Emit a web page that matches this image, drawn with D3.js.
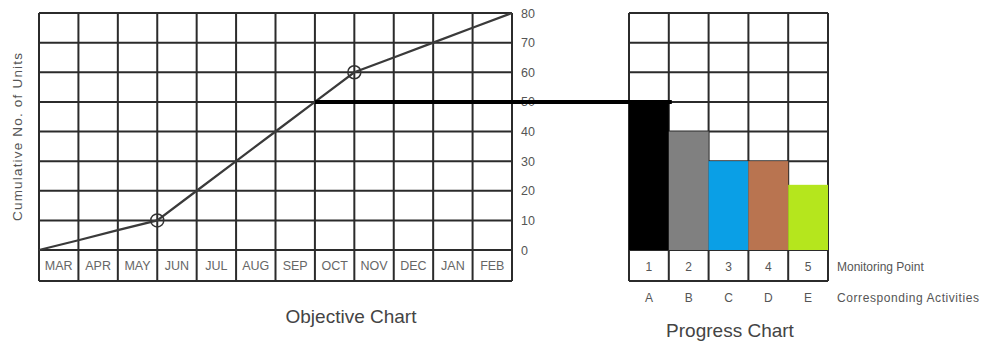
<!DOCTYPE html>
<html>
<head>
<meta charset="utf-8">
<script src="https://cdn.jsdelivr.net/npm/d3@7"></script>
<style>
  body { margin: 0; background: #fff; }
  text { font-family: "Liberation Sans", Arial, sans-serif; }
</style>
</head>
<body>
<script>
const months = ["MAR", "APR", "MAY", "JUN", "JUL", "AUG", "SEP", "OCT", "NOV", "DEC", "JAN", "FEB"];
// cumulative units at each month boundary (start of MAR ... end of FEB)
const cumulative = [0, 3.3, 6.7, 10, 20, 30, 40, 50, 60, 65, 70, 75, 80];
const monitoredIdx = [3, 8];
const yTicks = [0, 10, 20, 30, 40, 50, 60, 70, 80];

const points = ["1", "2", "3", "4", "5"];
const activities = ["A", "B", "C", "D", "E"];
const progress = [50, 40, 30, 30, 22];
const barColors = ["#000000", "#808080", "#0a9fe6", "#b97450", "#b5e61d"];
const connectorValue = 50;

const width = 985;
const height = 342;
const gridTop = 13;
const zero = 250;
const labelBottom = 281;
const gridColor = "#2b2b2b";
const textColor = "#555";

const svg = d3
  .select("body")
  .append("svg")
  .attr("width", width)
  .attr("height", height);

const yScale = d3.scaleLinear().domain([0, 80]).range([zero, gridTop]);

// ---------- Objective chart ----------
const xBand = d3.scaleBand().domain(months).range([39, 512]);
const xLine = d3.scaleLinear().domain([0, months.length]).range([39, 512]);

const obj = svg.append("g");

obj
  .selectAll("line.h")
  .data(yTicks.concat([-10.4]))
  .enter()
  .append("line")
  .attr("x1", 39)
  .attr("x2", 512)
  .attr("y1", (d) => (d < 0 ? labelBottom : yScale(d)))
  .attr("y2", (d) => (d < 0 ? labelBottom : yScale(d)))
  .attr("stroke", gridColor)
  .attr("stroke-width", 2);

obj
  .selectAll("line.v")
  .data(d3.range(months.length + 1))
  .enter()
  .append("line")
  .attr("x1", (d) => xLine(d))
  .attr("x2", (d) => xLine(d))
  .attr("y1", gridTop)
  .attr("y2", labelBottom)
  .attr("stroke", gridColor)
  .attr("stroke-width", 2);

obj
  .selectAll("text.month")
  .data(months)
  .enter()
  .append("text")
  .attr("x", (d) => xBand(d) + xBand.bandwidth() / 2)
  .attr("y", 270)
  .attr("text-anchor", "middle")
  .attr("font-size", 12.5)
  .attr("fill", "#666")
  .text((d) => d);

const yAxis = d3.axisRight(yScale).tickValues(yTicks).tickSize(0).tickPadding(0);
obj
  .append("g")
  .attr("transform", "translate(521 0)")
  .call(yAxis)
  .call((g) => g.select(".domain").remove())
  .call((g) =>
    g.selectAll("text").attr("font-size", 12.5).attr("fill", textColor).attr("font-family", "Liberation Sans, Arial, sans-serif")
  );

obj
  .append("path")
  .datum(cumulative)
  .attr("fill", "none")
  .attr("stroke", "#3a3a3a")
  .attr("stroke-width", 2.2)
  .attr(
    "d",
    d3
      .line()
      .x((d, i) => xLine(i))
      .y((d) => yScale(d))
  );

obj
  .selectAll("circle")
  .data(monitoredIdx)
  .enter()
  .append("circle")
  .attr("cx", (d) => xLine(d))
  .attr("cy", (d) => yScale(cumulative[d]))
  .attr("r", 6.5)
  .attr("fill", "none")
  .attr("stroke", "#333")
  .attr("stroke-width", 1.5);

obj
  .append("text")
  .attr("transform", `translate(22 ${137}) rotate(-90)`)
  .attr("text-anchor", "middle")
  .attr("font-size", 13.5)
  .attr("textLength", 168)
  .attr("fill", textColor)
  .text("Cumulative No. of Units");

obj
  .append("text")
  .attr("x", 351)
  .attr("y", 323)
  .attr("text-anchor", "middle")
  .attr("font-size", 19)
  .attr("fill", "#444")
  .text("Objective Chart");

// ---------- Progress chart ----------
const pBand = d3.scaleBand().domain(points).range([629, 828]);

const prog = svg.append("g");

prog
  .selectAll("line.h")
  .data(yTicks.concat([-10.4]))
  .enter()
  .append("line")
  .attr("x1", 629)
  .attr("x2", 828)
  .attr("y1", (d) => (d < 0 ? labelBottom : yScale(d)))
  .attr("y2", (d) => (d < 0 ? labelBottom : yScale(d)))
  .attr("stroke", gridColor)
  .attr("stroke-width", 2);

prog
  .selectAll("line.v")
  .data(points.map((p) => pBand(p)).concat([828]))
  .enter()
  .append("line")
  .attr("x1", (d) => d)
  .attr("x2", (d) => d)
  .attr("y1", gridTop)
  .attr("y2", labelBottom)
  .attr("stroke", gridColor)
  .attr("stroke-width", 2);

prog
  .selectAll("rect")
  .data(progress)
  .enter()
  .append("rect")
  .attr("x", (d, i) => pBand(points[i]))
  .attr("y", (d) => yScale(d))
  .attr("width", pBand.bandwidth())
  .attr("height", (d) => zero - yScale(d))
  .attr("fill", (d, i) => barColors[i]);

prog
  .selectAll("text.num")
  .data(points)
  .enter()
  .append("text")
  .attr("x", (d) => pBand(d) + pBand.bandwidth() / 2)
  .attr("y", 271)
  .attr("text-anchor", "middle")
  .attr("font-size", 12)
  .attr("fill", textColor)
  .text((d) => d);

prog
  .selectAll("text.act")
  .data(activities)
  .enter()
  .append("text")
  .attr("x", (d, i) => pBand(points[i]) + pBand.bandwidth() / 2)
  .attr("y", 302)
  .attr("text-anchor", "middle")
  .attr("font-size", 12)
  .attr("fill", textColor)
  .text((d) => d);

prog
  .append("text")
  .attr("x", 837)
  .attr("y", 271)
  .attr("font-size", 12)
  .attr("fill", textColor)
  .text("Monitoring Point");

prog
  .append("text")
  .attr("x", 837)
  .attr("y", 302)
  .attr("font-size", 12)
  .attr("textLength", 142)
  .attr("fill", textColor)
  .text("Corresponding Activities");

prog
  .append("text")
  .attr("x", 730)
  .attr("y", 337)
  .attr("text-anchor", "middle")
  .attr("font-size", 19)
  .attr("fill", "#444")
  .text("Progress Chart");

// connector from objective curve to first monitoring bar
svg
  .append("line")
  .attr("x1", xLine(cumulative.indexOf(connectorValue)))
  .attr("x2", pBand(points[0]) + pBand.bandwidth() + 3)
  .attr("y1", yScale(connectorValue))
  .attr("y2", yScale(connectorValue))
  .attr("stroke", "#000")
  .attr("stroke-width", 4);
</script>
</body>
</html>
